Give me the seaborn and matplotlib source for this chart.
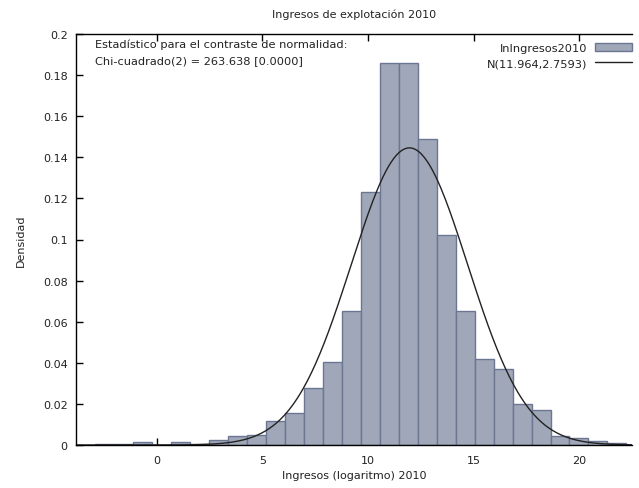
import numpy as np
import pandas as pd
import matplotlib
matplotlib.use("Agg")
import matplotlib.pyplot as plt
import seaborn as sns
from matplotlib.ticker import FuncFormatter

# ---- data ----
bin_start = -2.91
bin_width = 0.898
densities = [0.0006, 0.0006, 0.0015, 0.0, 0.0015, 0.0007, 0.0024, 0.0044,
             0.0050, 0.0115, 0.0156, 0.0275, 0.0405, 0.0654, 0.1231, 0.1857,
             0.1857, 0.1491, 0.1024, 0.0654, 0.0418, 0.0369, 0.0199, 0.0169,
             0.0046, 0.0035, 0.0020, 0.0011]
mu = 11.964
sigma = 2.7593
x_ticks = [0, 5, 10, 15, 20]
y_ticks = [0, 0.02, 0.04, 0.06, 0.08, 0.1, 0.12, 0.14, 0.16, 0.18, 0.2]
title = "Ingresos de explotación 2010"
xlabel = "Ingresos (logaritmo) 2010"
ylabel = "Densidad"
stat_text = "Estadístico para el contraste de normalidad:\nChi-cuadrado(2) = 263.638 [0.0000]"
hist_label = "lnIngresos2010"
norm_label = "N(11.964,2.7593)"

edges = [float(v) for v in bin_start + bin_width * np.arange(len(densities) + 1)]
centers = [(edges[i] + edges[i + 1]) / 2 for i in range(len(densities))]
df = pd.DataFrame({"x": centers, "w": densities})

sns.set_style("white")
plt.rcParams["font.family"] = ["DejaVu Sans"]
plt.rcParams["xtick.direction"] = "in"
plt.rcParams["ytick.direction"] = "in"

fig = plt.figure(figsize=(6.39, 4.89), dpi=100)
ax = fig.add_axes([76 / 639, 1 - 446 / 489, (632 - 76) / 639, (446 - 35) / 489])

sns.histplot(data=df, x="x", weights="w", bins=edges, stat="count",
             color="#a0a7b8", edgecolor="#6b7792", linewidth=1.0, alpha=1.0,
             ax=ax, label=hist_label)

xlim = (-3.82, 22.5)
xs = np.linspace(xlim[0], xlim[1], 400)
pdf = np.exp(-0.5 * ((xs - mu) / sigma) ** 2) / (sigma * np.sqrt(2 * np.pi))
sns.lineplot(x=xs, y=pdf, color="#222222", linewidth=1.0, ax=ax, label=norm_label)

ax.set_xlim(*xlim)
ax.set_ylim(0, 0.2)
ax.set_xticks(x_ticks)
ax.set_yticks(y_ticks)
ax.yaxis.set_major_formatter(FuncFormatter(lambda v, p: "%g" % v))
ax.tick_params(axis="both", which="both", direction="in", length=5, width=1,
               labelsize=8, color="#000000", labelcolor="#222222",
               top=True, bottom=True, left=True, right=False)
ax.tick_params(axis="x", pad=7)
ax.tick_params(axis="y", pad=6)
for side in ["left", "bottom", "top"]:
    ax.spines[side].set_visible(True)
    ax.spines[side].set_color("#000000")
    ax.spines[side].set_linewidth(1.0)
ax.spines["right"].set_visible(False)

ax.set_xlabel(xlabel, fontsize=8, color="#222222", labelpad=4)
ax.set_ylabel(ylabel, fontsize=8, color="#222222", labelpad=12)
fig.text(354 / 639, 1 - 15 / 489, title, ha="center", va="center", fontsize=8, color="#222222")

ax.text(0.034, 0.988, stat_text, transform=ax.transAxes, ha="left", va="top",
        fontsize=8.2, color="#222222", linespacing=1.65)

handles, labels = ax.get_legend_handles_labels()
order = [labels.index(hist_label), labels.index(norm_label)]
leg = ax.legend([handles[i] for i in order], [labels[i] for i in order],
                loc="upper right", bbox_to_anchor=(1.012, 0.995), frameon=False,
                markerfirst=False, fontsize=8.2, handlelength=3.2, handleheight=0.7,
                labelspacing=0.45, handletextpad=0.7, borderaxespad=0.2)
for t in leg.get_texts():
    t.set_color("#222222")

fig.savefig("out.png", dpi=100)
